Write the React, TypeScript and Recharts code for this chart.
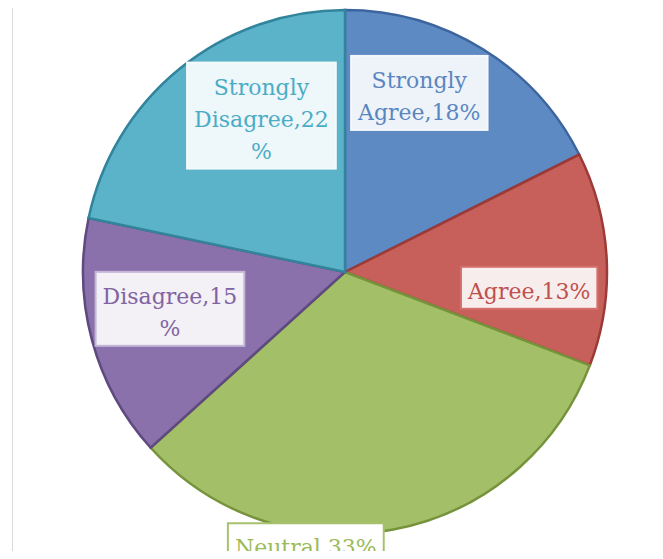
import React from 'react';
import { PieChart, Pie, Cell } from 'recharts';

const categories = ['Strongly Agree', 'Agree', 'Neutral', 'Disagree', 'Strongly Disagree'];
const shares = [17.6, 13.2, 32.5, 15.0, 21.7];

const chartData = categories.map((name, i) => ({ name, value: shares[i] }));
const total = shares.reduce((a, b) => a + b, 0);

// slice + label styling (Office 2010 palette)
const FILLS = ['#5E8AC4', '#C75F5B', '#A3BF67', '#8B71AC', '#5BB3C9'];
const STROKES = ['#3C659E', '#9B3A37', '#76933C', '#5F4A80', '#31849B'];
const TEXT_COLORS = ['#5A86C0', '#C0504D', '#9BBB59', '#8064A2', '#4BACC6'];
const BOX_FILLS = ['#EEF3F9', '#F8EDED', '#FFFFFF', '#F3F0F6', '#EEF7FA'];
const BOX_STROKES = ['#F4F7FB', '#D4706C', '#A6C26E', '#C4B6D6', '#F4FAFC'];

// manual nudges of the data labels from the default mid-angle spot
const labelNudge = [
  [-22, -23],
  [1, 25],
  [-73, 92],
  [2, -11],
  [32, -14],
];

const FONT = "'DejaVu Serif', serif";
const FONT_SIZE = 22;
const LINE_H = 32;
const MAX_W = 146;
const PAD = 7;

let ctx: CanvasRenderingContext2D | null = null;
const measure = (s: string) => {
  if (!ctx) {
    ctx = document.createElement('canvas').getContext('2d');
    if (ctx) ctx.font = `${FONT_SIZE}px ${FONT}`;
  }
  return ctx ? ctx.measureText(s).width : s.length * FONT_SIZE * 0.6;
};

// greedy wrap, breaking inside a word when it is too long (like Excel does)
const wrap = (text: string) => {
  const lines: string[] = [];
  let cur = '';
  text.split(' ').forEach((word) => {
    const tryLine = cur ? `${cur} ${word}` : word;
    if (measure(tryLine) <= MAX_W) {
      cur = tryLine;
      return;
    }
    if (cur) lines.push(cur);
    cur = '';
    for (const ch of word) {
      if (measure(cur + ch) > MAX_W && cur) {
        lines.push(cur);
        cur = ch;
      } else {
        cur += ch;
      }
    }
  });
  if (cur) lines.push(cur);
  return lines;
};

const RAD = Math.PI / 180;

const renderLabel = (props: any) => {
  const { cx, cy, midAngle, outerRadius, index, name, value } = props;
  const r = outerRadius * 0.7;
  const x = cx + r * Math.cos(-midAngle * RAD) + labelNudge[index][0];
  const y = cy + r * Math.sin(-midAngle * RAD) + labelNudge[index][1];
  const pct = Math.round((value / total) * 100 + 1e-9);
  const lines = wrap(`${name},${pct}%`);
  const w = Math.max(...lines.map(measure)) + PAD * 2;
  const h = lines.length * LINE_H + 10;
  const top = y - h / 2;
  return (
    <g key={`lbl-${index}`}>
      <rect
        x={x - w / 2}
        y={top}
        width={w}
        height={h}
        fill={BOX_FILLS[index]}
        stroke={BOX_STROKES[index]}
        strokeWidth={2}
      />
      {lines.map((ln, i) => (
        <text
          key={i}
          x={x}
          y={top + LINE_H * (i + 1)}
          textAnchor="middle"
          fill={TEXT_COLORS[index]}
          fontFamily={FONT}
          fontSize={FONT_SIZE}
        >
          {ln}
        </text>
      ))}
    </g>
  );
};

export default function App() {
  return (
    <div style={{ position: 'relative', width: 663, height: 559, margin: -8, background: '#fff' }}>
      <div
        style={{
          position: 'absolute',
          left: 12,
          top: 0,
          width: 1,
          height: 557,
          background: '#D9D9D9',
        }}
      />
      <PieChart
        width={663}
        height={559}
        margin={{ top: 0, right: 0, bottom: 0, left: 0 }}
        style={{ position: 'absolute', left: 0, top: 0 }}
      >
        <Pie
          data={chartData}
          dataKey="value"
          nameKey="name"
          cx={345}
          cy={272}
          outerRadius={262}
          startAngle={90}
          endAngle={-270}
          label={renderLabel}
          labelLine={false}
          isAnimationActive={false}
        >
          {chartData.map((d, i) => (
            <Cell key={d.name} fill={FILLS[i]} stroke={STROKES[i]} strokeWidth={2.5} />
          ))}
        </Pie>
      </PieChart>
    </div>
  );
}
